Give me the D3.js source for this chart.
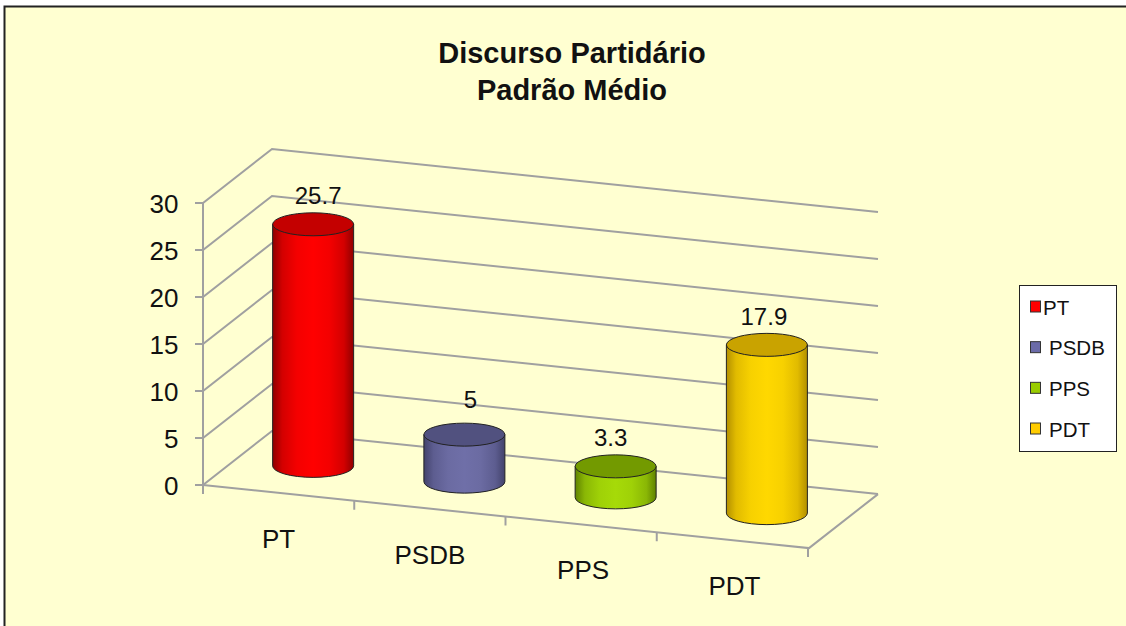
<!DOCTYPE html>
<html><head><meta charset="utf-8">
<script src="https://cdn.jsdelivr.net/npm/d3@7/dist/d3.min.js"></script>
<style>html,body{margin:0;padding:0;background:#fff}svg{display:block}text{font-family:"Liberation Sans",Arial,sans-serif;fill:#111}</style>
</head><body><div id="c"></div>
<script>
const categories = ["PT","PSDB","PPS","PDT"];
const values = [25.7,5,3.3,17.9];
const valueLabels = ["25.7","5","3.3","17.9"];
const yTicks = [0,5,10,15,20,25,30];
const titleLines = ["Discurso Partidário","Padrão Médio"];
const sideColors = ["#ff0000","#6f6fa8","#a6da08","#ffd800"];
const edgeColors = ["#900000","#43436c","#608200","#b39000"];
const capColors = ["#c40000","#51517f","#739a00","#c9a300"];
const legendColors = ["#ff0000","#6b6ba8","#99cc00","#ffcc00"];

const W=1126,H=626;
const svg=d3.select("#c").append("svg").attr("width",W).attr("height",H);
const defs=svg.append("defs");

// frame
svg.append("rect").attr("x",5).attr("y",7).attr("width",W-5).attr("height",H-7).attr("fill","#ffffd1");
svg.append("path").attr("d",`M4.5 ${H}V6.5H${W}`).attr("fill","none").attr("stroke","#222").attr("stroke-width",2);

// title
const title=svg.append("g").attr("text-anchor","middle");
titleLines.forEach((t,i)=>title.append("text").attr("x",572).attr("y",63+i*37).attr("font-size",29).attr("font-weight","bold").text(t));

// 3D oblique projection
const x0=203,yFloor=485,depthX=69,depthY=-54,slope=63/605;
const x=d3.scaleBand().domain(categories).range([x0,808]);
const y=d3.scaleLinear().domain([0,30]).range([0,-282]);
const px=(sx,d)=>sx+d*depthX;
const py=(sx,v,d)=>yFloor+(sx-x0)*slope+y(v)+d*depthY;
const grid="#a0a0a0";
const g=svg.append("g").attr("fill","none").attr("stroke",grid).attr("stroke-width",2);
const right=878-depthX;
yTicks.forEach(v=>{
  g.append("path").attr("d",`M${x0-8} ${py(x0,v,0)}H${x0}L${px(x0,1)} ${py(x0,v,1)}L${px(right,1)} ${py(right,v,1)}`);
});
g.append("path").attr("d",`M${x0} ${py(x0,0,0)}V${py(x0,30,0)}`);
g.append("path").attr("d",`M${x0} ${py(x0,0,0)}L${px(right,0)} ${py(right,0,0)}L${px(right,1)} ${py(right,0,1)}`);
x.domain().concat(["_end"]).forEach(c=>{
  const sx=c==="_end"?x.range()[1]:x(c);
  const yy=py(sx,0,0);
  g.append("line").attr("x1",sx).attr("x2",sx).attr("y1",yy).attr("y2",yy+9);
});

// y labels
svg.append("g").attr("text-anchor","end").selectAll("text").data(yTicks).join("text")
  .attr("x",178.5).attr("y",v=>py(x0,v,0)+9.5).attr("font-size",26).text(v=>v);

// cylinders
const rx=40.5,ry=11.5;
categories.forEach((c,i)=>{
  const id="g"+i;
  const mix=d3.interpolateRgb(edgeColors[i],sideColors[i]);
  const lg=defs.append("linearGradient").attr("id",id);
  [[0,0],[0.12,0.6],[0.3,0.9],[0.5,1],[0.7,0.9],[0.88,0.6],[1,0]].forEach(s=>
    lg.append("stop").attr("offset",s[0]).attr("stop-color",mix(s[1])));
  const sx=x(c)+x.bandwidth()/2;
  const cx=px(sx,0.5), yb=py(sx,0,0.5), yt=py(sx,values[i],0.5);
  svg.append("path")
    .attr("d",`M${cx-rx} ${yt}V${yb}A${rx} ${ry} 0 0 0 ${cx+rx} ${yb}V${yt}Z`)
    .attr("fill",`url(#${id})`).attr("stroke","#222").attr("stroke-width",1);
  svg.append("ellipse").attr("cx",cx).attr("cy",yt).attr("rx",rx).attr("ry",ry)
    .attr("fill",capColors[i]).attr("stroke","#222").attr("stroke-width",1);
  svg.append("text").attr("text-anchor","middle").attr("x",cx+(i===0?5:i===1?6:i===2?-5:-3)).attr("y",yt-(i===1?27:20)).attr("font-size",24).text(valueLabels[i]);
  const ls=x(c)+x.bandwidth()/2;
  svg.append("text").attr("text-anchor","middle").attr("x",ls+(i>1?2:0)).attr("y",py(ls,0,0)+55).attr("font-size",26).text(c);
});

// legend
const lg=svg.append("g");
lg.append("rect").attr("x",1019.5).attr("y",285.5).attr("width",97).attr("height",166).attr("fill","#fff").attr("stroke","#222").attr("stroke-width",1);
const ly=d3.scalePoint().domain(categories).range([307,429]);
categories.forEach((c,i)=>{
  lg.append("rect").attr("x",1030.5).attr("y",ly(c)-6).attr("width",10).attr("height",11).attr("fill",legendColors[i]).attr("stroke","#333");
  lg.append("text").attr("x",i===0?1043:1049).attr("y",ly(c)+7.5).attr("font-size",20.5).text(c);
});
</script></body></html>
